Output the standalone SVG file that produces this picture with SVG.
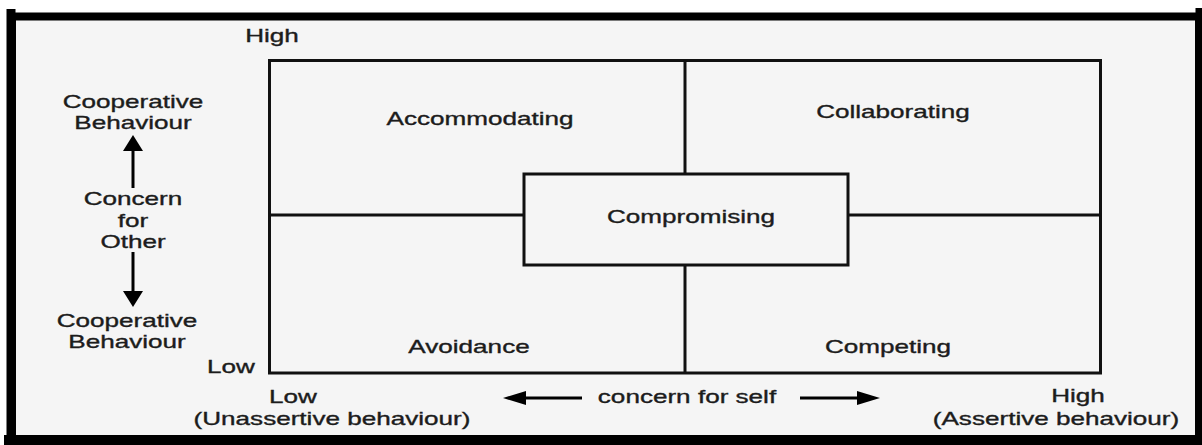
<svg xmlns="http://www.w3.org/2000/svg" width="1202" height="445" viewBox="0 0 1202 445">
<style>
text{font-family:"Liberation Sans",Arial,sans-serif;font-size:18px;fill:#1c1c1c;stroke:#1c1c1c;stroke-width:0.35;text-anchor:middle}
.box{fill:none;stroke:#111;stroke-width:3}
.ln{stroke:#111;stroke-width:3;fill:none}
.ar{stroke:#000;stroke-width:3;fill:none}
.hd{fill:#000}
</style>
<rect x="0" y="0" width="1202" height="445" fill="#ffffff"/>
<rect x="12" y="16.5" width="1187" height="423.5" fill="#f5f5f5" stroke="#000" stroke-width="8"/>
<line x1="11" y1="9" x2="11" y2="445" stroke="#000" stroke-width="9"/>
<line x1="1199" y1="8" x2="1199" y2="445" stroke="#000" stroke-width="7"/>
<line x1="4" y1="440" x2="1202" y2="440" stroke="#000" stroke-width="10"/>

<g id="grid">
<rect class="box" x="269.5" y="60.5" width="831" height="312.5"/>
<line class="ln" x1="269.5" y1="215" x2="524" y2="215"/>
<line class="ln" x1="848" y1="215" x2="1100.5" y2="215"/>
<line class="ln" x1="685" y1="60.5" x2="685" y2="174"/>
<line class="ln" x1="685" y1="265" x2="685" y2="373"/>
</g>

<g id="accommodating"><text transform="translate(480,125) scale(1.45,1)">Accommodating</text></g>
<g id="collaborating"><text transform="translate(893,118) scale(1.45,1)">Collaborating</text></g>
<g id="compromising">
<rect class="box" x="524" y="174" width="324" height="91"/>
<text transform="translate(691,223) scale(1.45,1)">Compromising</text>
</g>
<g id="avoidance"><text transform="translate(469,353) scale(1.45,1)">Avoidance</text></g>
<g id="competing"><text transform="translate(888,353) scale(1.45,1)">Competing</text></g>

<g id="axis-labels">
<text transform="translate(272,42) scale(1.45,1)">High</text>
<text transform="translate(231,373) scale(1.45,1)">Low</text>
<text transform="translate(133,108) scale(1.45,1)">Cooperative</text>
<text transform="translate(133,129) scale(1.45,1)">Behaviour</text>
<text transform="translate(133,205) scale(1.45,1)">Concern</text>
<text transform="translate(133,227) scale(1.45,1)">for</text>
<text transform="translate(133,248) scale(1.45,1)">Other</text>
<text transform="translate(127,327) scale(1.45,1)">Cooperative</text>
<text transform="translate(127,348) scale(1.45,1)">Behaviour</text>
<text transform="translate(293,403) scale(1.45,1)">Low</text>
<text transform="translate(332,425) scale(1.45,1)">(Unassertive behaviour)</text>
<text transform="translate(687,403) scale(1.45,1)">concern for self</text>
<text transform="translate(1078,402) scale(1.45,1)">High</text>
<text transform="translate(1056,425) scale(1.45,1)">(Assertive behaviour)</text>
</g>

<g id="connectors">
<line class="ar" x1="133" y1="188" x2="133" y2="149"/>
<polygon class="hd" points="133,135 143,151 123,151"/>
<line class="ar" x1="133" y1="252" x2="133" y2="293"/>
<polygon class="hd" points="133,307 143,291 123,291"/>
<line class="ar" x1="582" y1="398" x2="523" y2="398"/>
<polygon class="hd" points="503,398 526,391 526,405"/>
<line class="ar" x1="800" y1="398" x2="859" y2="398"/>
<polygon class="hd" points="880,398 857,391 857,405"/>
</g>
</svg>
